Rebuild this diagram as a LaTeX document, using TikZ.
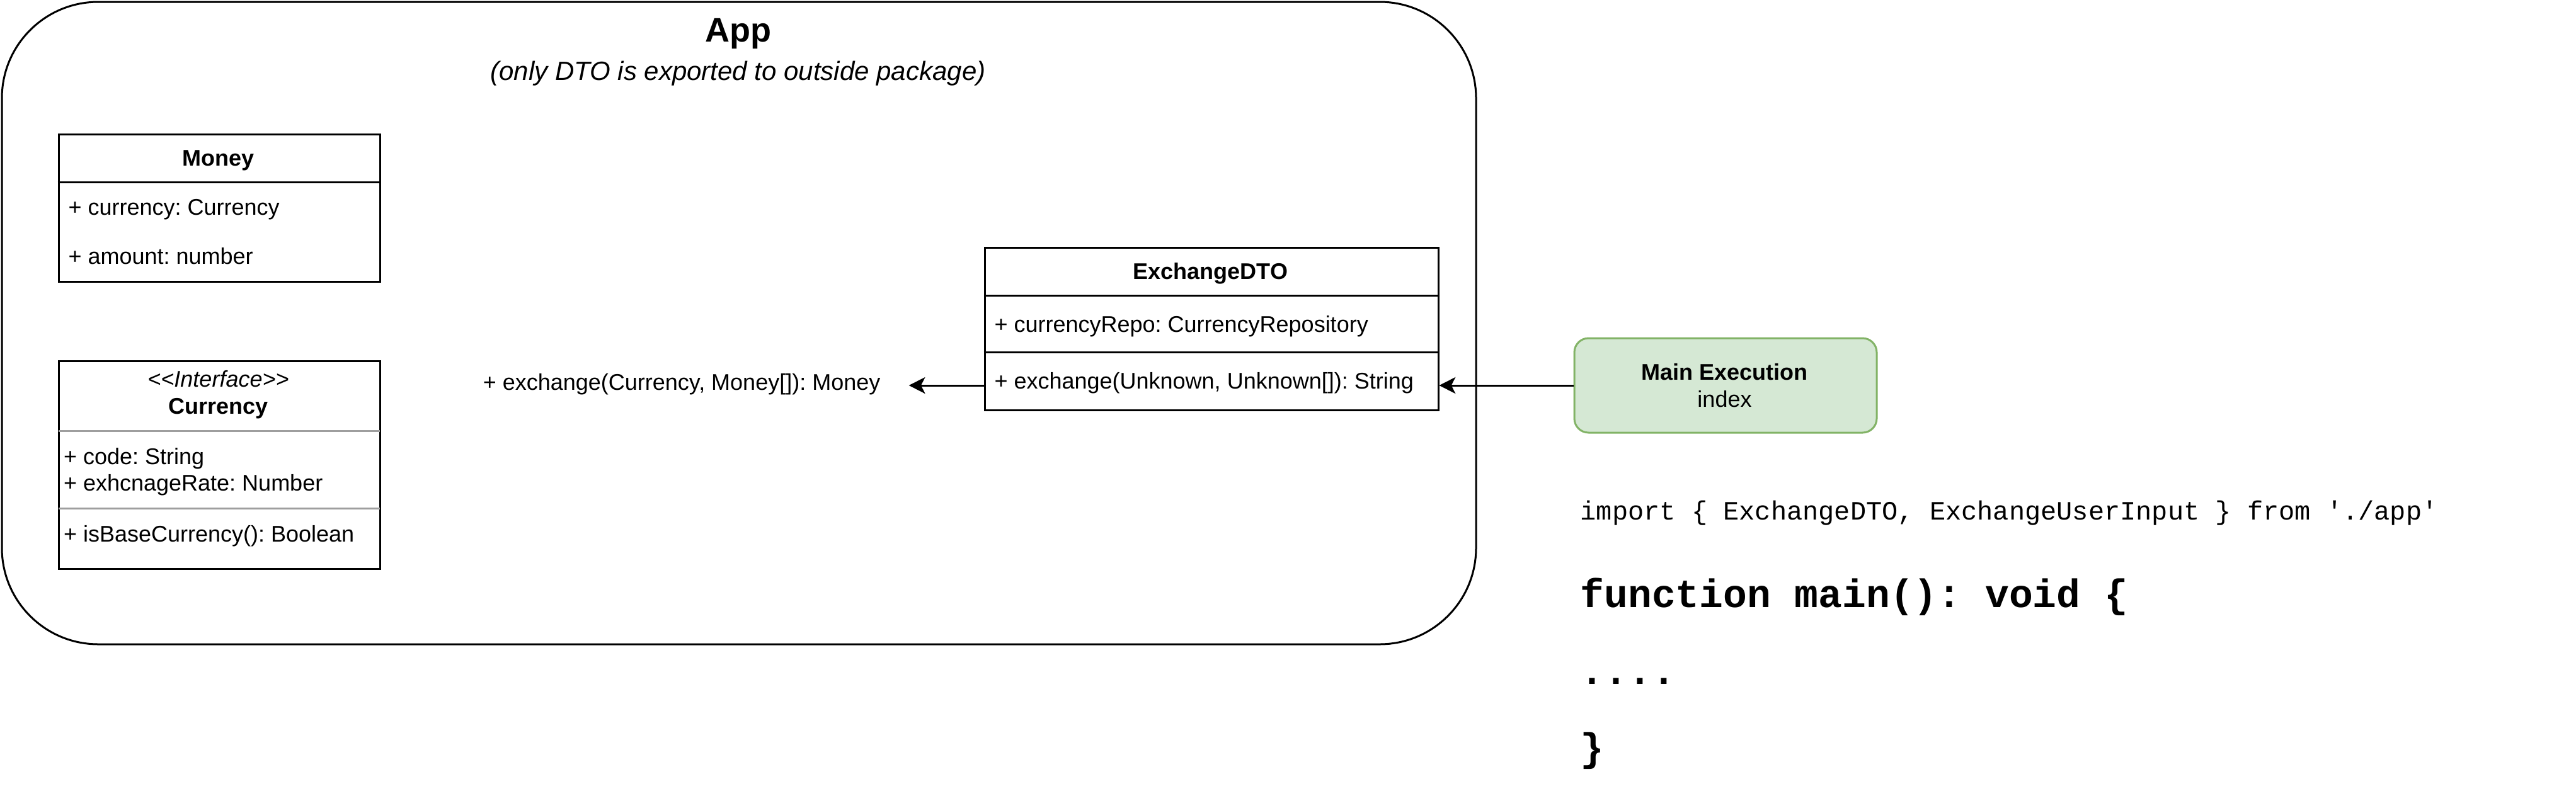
\documentclass[tikz,border=0pt]{standalone}
\usepackage{fontspec}
\setmainfont{Liberation Sans}
\setmonofont{Liberation Mono}
\usetikzlibrary{arrows.meta,calc}
\definecolor{mgreen}{HTML}{D5E8D4}
\definecolor{mgreenline}{HTML}{82B366}
\definecolor{divgray}{HTML}{9E9E9E}
\begin{document}
\frenchspacing
\begin{tikzpicture}[x=1pt,y=-1pt,
  box/.style={draw=black, line width=1pt, rectangle, inner sep=0pt, anchor=north west},
  divline/.style={draw=black, line width=1pt},
  t12/.style={inner sep=0pt, anchor=base west, font=\fontsize{12}{14.4}\selectfont},
  t12b/.style={inner sep=0pt, anchor=base, font=\fontsize{12}{14.4}\selectfont\bfseries},
  t12i/.style={inner sep=0pt, anchor=base, font=\fontsize{12}{14.4}\selectfont\itshape},
  codeline/.style={inner sep=0pt, anchor=base west, font=\ttfamily\fontsize{14}{16.8}\selectfont},
  codebold/.style={inner sep=0pt, anchor=base west, font=\ttfamily\bfseries\fontsize{21}{25.2}\selectfont},
  conn/.style={draw=black, line width=1pt, -{Stealth[length=8.6pt,width=8.7pt,inset=2.2pt]}},
]
\useasboundingbox (0,0) rectangle (1363,421);

% container
\node[box, rounded corners=51pt, minimum width=780pt, minimum height=340pt] (app) at (0.5,0.5) {};
\node[inner sep=0pt, anchor=base, font=\fontsize{18}{21.6}\selectfont\bfseries] (apptitle) at (390.5,22.3) {App};
\node[inner sep=0pt, anchor=base, font=\fontsize{14}{16.8}\selectfont\itshape] (appsub) at (390.5,42.6) {(only DTO is exported to outside package)};

% Money
\node[box, minimum width=170pt, minimum height=78pt] (money) at (30.5,70.5) {};
\draw[divline] ([yshift=-26pt]money.north west) -- ([yshift=-26pt]money.north east);
\node[t12b] (moneyname) at (115.5,87.7) {Money};
\node[t12] (moneycur) at (36,113.7) {+ currency: Currency};
\node[t12] (moneyamt) at (36,139.7) {+ amount: number};

% Currency interface
\node[box, minimum width=170pt, minimum height=110pt] (currency) at (30.5,190.5) {};
\draw[divgray, line width=1pt] ([xshift=0.5pt,yshift=-37.7pt]currency.north west) -- ([xshift=-0.5pt,yshift=-37.7pt]currency.north east);
\draw[divgray, line width=1pt] ([xshift=0.5pt,yshift=-78.8pt]currency.north west) -- ([xshift=-0.5pt,yshift=-78.8pt]currency.north east);
\node[t12i] (curstereo) at (115.5,204.8) {<\kern0pt<Interface>\kern0pt>};
\node[t12b] (curname) at (115.5,219.2) {Currency};
\node[t12] (curcode) at (33.5,245.9) {+ code: String};
\node[t12] (currate) at (33.5,259.9) {+ exhcnageRate: Number};
\node[t12] (curbase) at (33.5,286.8) {+ isBaseCurrency(): Boolean};

% ExchangeDTO
\node[box, minimum width=240pt, minimum height=86pt] (dto) at (520.5,130.5) {};
\draw[divline] ([yshift=-26pt]dto.north west) -- ([yshift=-26pt]dto.north east);
\draw[divline] ([yshift=-56pt]dto.north west) -- ([yshift=-56pt]dto.north east);
\node[t12b] (dtoname) at (640.5,147.7) {ExchangeDTO};
\node[t12] (dtorepo) at (526,175.7) {+ currencyRepo: CurrencyRepository};
\node[t12] (dtoexch) at (526,205.7) {+ exchange(Unknown, Unknown[]): String};

% Main Execution
\node[draw=mgreenline, fill=mgreen, line width=1pt, rounded corners=7.5pt, inner sep=0pt,
      minimum width=160pt, minimum height=50pt, anchor=north west] (mainexec) at (832.5,178.5) {};
\node[t12b] (mainname) at (912.5,201.2) {Main Execution};
\node[inner sep=0pt, anchor=base, font=\fontsize{12}{14.4}\selectfont] (mainidx) at (912.5,215.5) {index};

% label of the inner exchange
\node[inner sep=0pt, anchor=base east, font=\fontsize{12}{14.4}\selectfont] (exlabel) at (466,206.4) {+ exchange(Currency, Money[]): Money};
\path (mainexec.west -| dto.west) ++(-39.6,0) coordinate (extip);

% connectors
\draw[conn] (mainexec.west) -- (mainexec.west -| dto.east);
\draw[conn] (mainexec.west -| dto.west) -- (extip);

% code
\node[codeline] (codeimport) at (836,275) {import \{ ExchangeDTO, ExchangeUserInput \} from './app'};
\node[codebold] (codefunc) at (836,321.6) {function main(): void \{};
\node[codebold] (codedots) at (836,362) {....};
\node[codebold] (codeend) at (836,402.7) {\}};
\end{tikzpicture}
\end{document}
